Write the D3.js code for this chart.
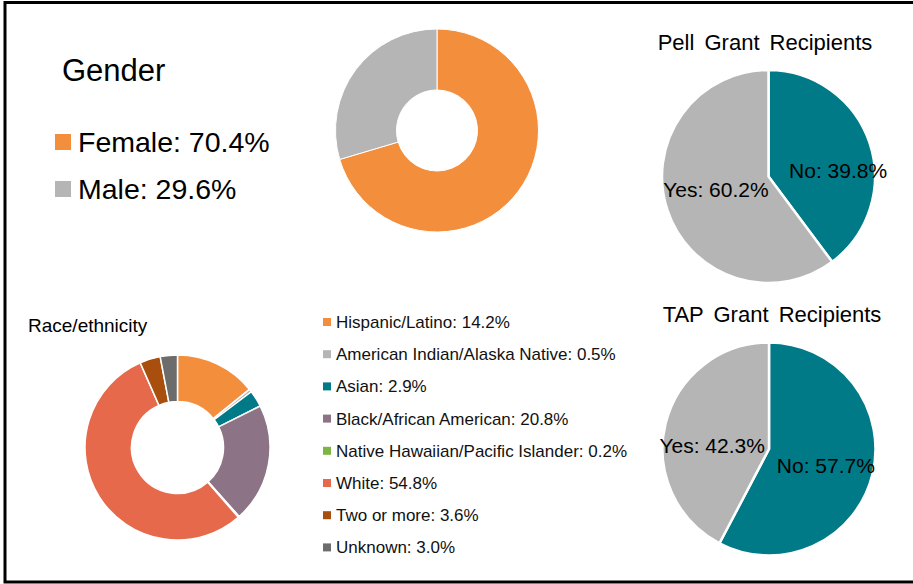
<!DOCTYPE html>
<html>
<head>
<meta charset="utf-8">
<script src="https://cdn.jsdelivr.net/npm/d3@7"></script>
<style>
  html, body { margin: 0; padding: 0; background: #fff; }
  svg { display: block; font-family: "Liberation Sans", Arial, sans-serif; }
</style>
</head>
<body>
<svg id="chart" width="913" height="584"></svg>
<script>
// gender
var genderLabels = ["Female", "Male"];
var genderValues = [70.4, 29.6];
var genderColors = ["#F28E3C", "#B4B5B4"];

// race / ethnicity
var raceLabels = ["Hispanic/Latino", "American Indian/Alaska Native", "Asian",
  "Black/African American", "Native Hawaiian/Pacific Islander", "White",
  "Two or more", "Unknown"];
var raceValues = [14.2, 0.5, 2.9, 20.8, 0.2, 54.8, 3.6, 3.0];
var raceColors = ["#F28E3C", "#B4B5B4", "#007A87", "#8C7386", "#7CB544",
  "#E5694A", "#A94F0D", "#6C6C6C"];

// grants
var grantLabels = ["No", "Yes"];
var grantColors = ["#007A87", "#B4B5B4"];
var pellValues = [39.8, 60.2];
var tapValues = [57.7, 42.3];

var svg = d3.select("#chart");

// frame (open on the right side)
svg.append("path")
  .attr("d", "M920,2.5 H5 V582 H920")
  .attr("fill", "none")
  .attr("stroke", "#000")
  .attr("stroke-width", 3);

var pie = d3.pie().sort(null).value(function (d) { return d; });

function fmt(v) { return v.toFixed(1) + "%"; }

// draws a pie or donut, returns the arcs
function drawPie(cx, cy, outer, inner, values, colors, strokeW) {
  var g = svg.append("g").attr("transform", "translate(" + cx + "," + cy + ")");
  var arc = d3.arc().innerRadius(inner).outerRadius(outer);
  var arcs = pie(values);
  g.selectAll("path")
    .data(arcs)
    .enter()
    .append("path")
    .attr("d", arc)
    .attr("fill", function (d, i) { return colors[i]; })
    .attr("stroke", "#fff")
    .attr("stroke-width", strokeW)
    .attr("stroke-linejoin", "round");
  return { g: g, arcs: arcs };
}

// ---- Gender ----
svg.append("text")
  .attr("x", 62).attr("y", 81)
  .style("font-size", "31px")
  .text("Gender");

var genderLegend = svg.selectAll(".gleg")
  .data(genderLabels)
  .enter()
  .append("g")
  .attr("class", "gleg")
  .attr("transform", function (d, i) { return "translate(55," + (142 + i * 47) + ")"; });
genderLegend.append("rect")
  .attr("x", 0).attr("y", -8).attr("width", 16).attr("height", 16)
  .attr("fill", function (d, i) { return genderColors[i]; });
genderLegend.append("text")
  .attr("x", 23).attr("y", 10)
  .style("font-size", "28.5px")
  .text(function (d, i) { return d + ": " + fmt(genderValues[i]); });

drawPie(437, 130.5, 101.5, 40.5, genderValues, genderColors, 1);

// ---- Race/ethnicity ----
svg.append("text")
  .attr("x", 28).attr("y", 332)
  .style("font-size", "19px")
  .text("Race/ethnicity");

drawPie(177.5, 447.5, 92.5, 46, raceValues, raceColors, 1.5);

var raceLegend = svg.selectAll(".rleg")
  .data(raceLabels)
  .enter()
  .append("g")
  .attr("class", "rleg")
  .attr("transform", function (d, i) { return "translate(323," + (322 + i * 32.2) + ")"; });
raceLegend.append("rect")
  .attr("x", 0).attr("y", -4).attr("width", 8).attr("height", 8)
  .attr("fill", function (d, i) { return raceColors[i]; });
raceLegend.append("text")
  .attr("x", 13).attr("y", 6)
  .style("font-size", "17px")
  .attr("fill", "#111")
  .text(function (d, i) { return d + ": " + fmt(raceValues[i]); });

// ---- Grant pies ----
function grantChart(title, titleX, titleY, cx, cy, values, nudge) {
  svg.append("text")
    .attr("x", titleX).attr("y", titleY)
    .attr("text-anchor", "middle")
    .style("font-size", "22px")
    .style("word-spacing", "4px")
    .text(title);
  var r = 106.5;
  var p = drawPie(cx, cy, r, 0, values, grantColors, 2.5);
  var labelArc = d3.arc().innerRadius(r * 0.55).outerRadius(r * 0.55);
  p.g.selectAll("text")
    .data(p.arcs)
    .enter()
    .append("text")
    .attr("transform", function (d, i) {
      var c = labelArc.centroid(d);
      return "translate(" + (c[0] + nudge[i][0]) + "," + (c[1] + nudge[i][1]) + ")";
    })
    .attr("text-anchor", "middle")
    .attr("dy", "0.36em")
    .style("font-size", "21px")
    .text(function (d, i) { return grantLabels[i] + ": " + fmt(values[i]); });
}

grantChart("Pell Grant Recipients", 765, 50, 768.5, 176.5, pellValues, [[14, 12], [3, -6]]);
grantChart("TAP Grant Recipients", 772, 322, 769, 449, tapValues, [[0, 2], [0, 10]]);
</script>
</body>
</html>
